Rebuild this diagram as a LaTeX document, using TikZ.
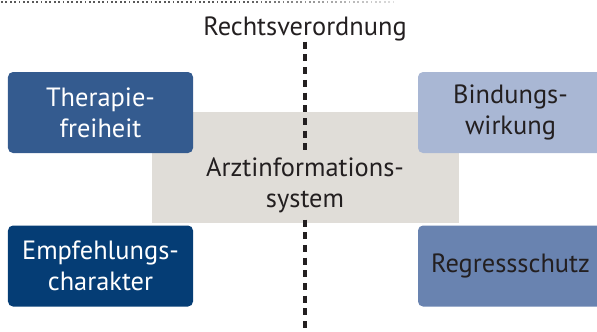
\documentclass[tikz,border=0pt]{standalone}
\usepackage{fontspec}
\setmainfont{PT Sans}
\definecolor{inkdark}{HTML}{231F20}
\definecolor{panelgrey}{HTML}{E0DDD8}
\definecolor{bluemid}{HTML}{345B8F}
\definecolor{bluenavy}{HTML}{053D75}
\definecolor{bluepale}{HTML}{A9B7D4}
\definecolor{bluesoft}{HTML}{6983B0}
\begin{document}
\begin{tikzpicture}[x=1bp,y=-1bp,
  lbl/.style={font=\fontsize{26.5}{31}\selectfont, align=center, inner sep=0pt},
  box/.style={lbl, rounded corners=5bp, minimum width=185bp, minimum height=81bp},
  darkbox/.style={box, text=white},
  lightbox/.style={box, text=inkdark},
  divider/.style={draw=inkdark, line width=4.7bp, dash pattern=on 7bp off 5.7bp}]
\useasboundingbox (0,0) rectangle (597,331);

% fading dotted rule along the top edge
\foreach \i in {0,...,89}{
  \pgfmathsetmacro{\xx}{1+4.4*\i}
  \pgfmathsetmacro{\shade}{\xx<240 ? 65 : max(12,65-(\xx-240)*0.34)}
  \fill[black!\shade] (\xx,1.2) rectangle ++(1.7,1.7);
}

% central grey panel
\node[fill=panelgrey, minimum width=307bp, minimum height=111bp, inner sep=0pt] (panel) at (305.5,167.5) {};

% vertical divider
\node[lbl, text=inkdark] (rv) at (305,28.5) {Rechtsverordnung};
\coordinate (divtop) at (305,41.7);
\coordinate (divbot) at (305,335);
\draw[divider] (divtop) -- (divbot);

\node[lbl, text=inkdark, fill=panelgrey, inner xsep=4bp, inner ysep=5bp] (ais) at (305,185) {Arztinformations-\\system};

% four corner boxes
\node[darkbox, fill=bluemid] (thf) at (100.5,112.5) {Therapie-\\freiheit};
\node[darkbox, fill=bluenavy] (emp) at (100.5,266) {Empfehlungs-\\charakter};
\node[lightbox, fill=bluepale] (bdw) at (510.5,112.5) {Bindungs-\\wirkung};
\node[lightbox, fill=bluesoft] (rgs) at (510.5,266) {Regressschutz};
\end{tikzpicture}
\end{document}
